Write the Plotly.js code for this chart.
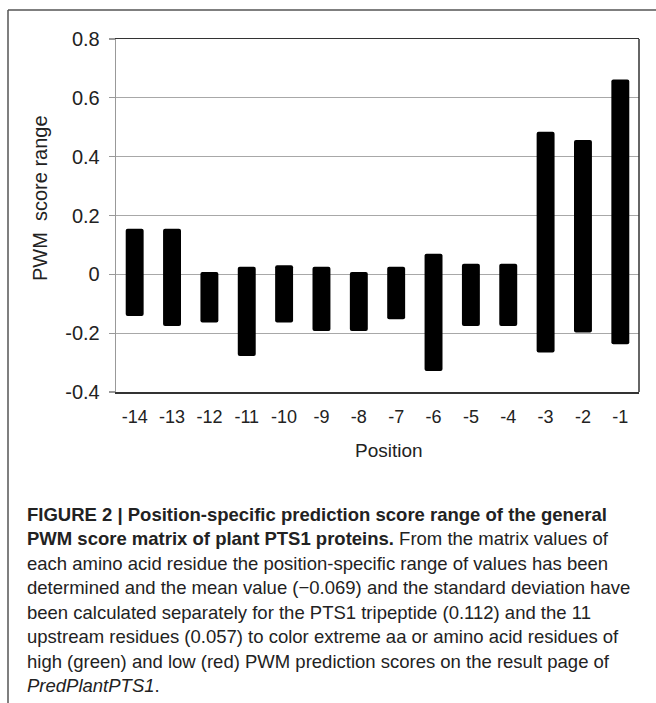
<!DOCTYPE html>
<html>
<head>
<meta charset="utf-8">
<script src="https://cdn.plot.ly/plotly-3.0.1.min.js"></script>
<style>
html,body{margin:0;padding:0;background:#fff;}
#chart{width:656px;height:703px;}
</style>
</head>
<body>
<div id="chart"></div>
<script>
// Data: position-specific PWM score range (min and max per position)
const positions = ["-14","-13","-12","-11","-10","-9","-8","-7","-6","-5","-4","-3","-2","-1"];
const maxScore  = [0.155, 0.155, 0.008, 0.026, 0.031, 0.026, 0.008, 0.026, 0.070, 0.036, 0.036, 0.485, 0.457, 0.662];
const minScore  = [-0.142, -0.176, -0.164, -0.278, -0.164, -0.193, -0.193, -0.153, -0.329, -0.176, -0.176, -0.266, -0.198, -0.238];
const yTickVals = [-0.4, -0.2, 0, 0.2, 0.4, 0.6, 0.8];
const yTickText = ["-0.4", "-0.2", "0", "0.2", "0.4", "0.6", "0.8"];
const xTitle = "Position";
const yTitle = "PWM&nbsp;&nbsp;score range";
const captionLines = [
  "<b>FIGURE 2 | Position-specific prediction score range of the general</b>",
  "<b>PWM score matrix of plant PTS1 proteins.</b> From the matrix values of",
  "each amino acid residue the position-specific range of values has been",
  "determined and the mean value (\u22120.069) and the standard deviation have",
  "been calculated separately for the PTS1 tripeptide (0.112) and the 11",
  "upstream residues (0.057) to color extreme aa or amino acid residues of",
  "high (green) and low (red) PWM prediction scores on the result page of",
  "<i>PredPlantPTS1</i>."
];

// Layout geometry (pixels)
const W = 656, H = 703;
const L = 116, R = 639, T = 39, B = 392;
const pw = R - L, ph = B - T;
const px = x => (x - L) / pw;
const py = y => (B - y) / ph;

const FONT = "Arial, 'Liberation Sans', Helvetica, sans-serif";

const trace = {
  type: "bar",
  x: positions,
  y: maxScore.map((v, i) => v - minScore[i]),
  base: minScore,
  width: 0.48,
  marker: {color: "#000000", cornerradius: 2, line: {width: 0}},
  hoverinfo: "skip"
};

const annotations = [
  {text: xTitle, xref: "paper", yref: "paper", x: px(389), y: py(450),
   xanchor: "center", yanchor: "middle", showarrow: false,
   font: {family: FONT, size: 19, color: "#222"}},
  {text: yTitle, xref: "paper", yref: "paper", x: px(40), y: py(198),
   xanchor: "center", yanchor: "middle", showarrow: false, textangle: -90,
   font: {family: FONT, size: 20, color: "#222"}}
];
const lineY0 = 514, lineStep = 24.5;
captionLines.forEach((t, i) => {
  annotations.push({
    text: t, xref: "paper", yref: "paper", x: px(25), y: py(lineY0 + i * lineStep),
    xanchor: "left", yanchor: "middle", showarrow: false, align: "left",
    font: {family: FONT, size: 18.5, color: "#222"}
  });
});

const shapes = [
  // outer figure frame (left and top)
  {type: "line", xref: "paper", yref: "paper", x0: px(8), x1: px(8), y0: py(10), y1: py(H + 5),
   line: {color: "#555", width: 1.5}},
  {type: "line", xref: "paper", yref: "paper", x0: px(8), x1: px(W + 5), y0: py(10), y1: py(10),
   line: {color: "#555", width: 1.5}},
  // right border of plot area
  {type: "line", xref: "paper", yref: "paper", x0: 1, x1: 1, y0: 0, y1: 1,
   line: {color: "#333", width: 1.5}}
];

const layout = {
  width: W, height: H,
  margin: {l: L, r: W - R, t: T, b: H - B, pad: 0},
  paper_bgcolor: "#fff", plot_bgcolor: "#fff",
  showlegend: false,
  font: {family: FONT, color: "#222"},
  xaxis: {
    type: "category", range: [-0.5, 13.5],
    showline: true, linecolor: "#333", linewidth: 1.5, mirror: true,
    ticks: "", showgrid: false, zeroline: false,
    tickfont: {family: FONT, size: 18, color: "#222"},
    ticklabelstandoff: 8,
    fixedrange: true
  },
  yaxis: {
    range: [-0.4, 0.8], tickvals: yTickVals, ticktext: yTickText,
    showline: true, linecolor: "#999", linewidth: 1.3,
    ticks: "outside", ticklen: 6, tickcolor: "#999", tickwidth: 1.3,
    showgrid: true, gridcolor: "#a8a8a8", gridwidth: 1.3, zeroline: false,
    tickfont: {family: FONT, size: 20, color: "#222"},
    ticklabelstandoff: 5,
    fixedrange: true
  },
  annotations: annotations,
  shapes: shapes,
  bargap: 0.52
};

Plotly.newPlot("chart", [trace], layout, {displayModeBar: false, staticPlot: true});
</script>
</body>
</html>
